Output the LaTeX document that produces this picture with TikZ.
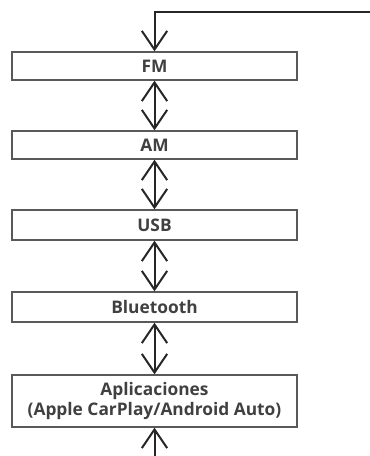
\documentclass[tikz,border=0pt]{standalone}
\usepackage{fontspec}
\setmainfont{Open Sans}
\usepackage{tikz}
\usetikzlibrary{arrows.meta,positioning,calc}

\tikzset{
  modebox/.style={draw=black!65, line width=1pt, fill=white, minimum width=213.75pt,
    minimum height=21pt, inner sep=0pt, align=center, text=black!75,
    font=\fontsize{13}{15}\selectfont\bfseries},
  modearrow/.style={draw=black!85, line width=1.5pt,
    arrows={-Straight Barb[length=14pt,width=19pt,line width=1.5pt]}},
  modeboth/.style={modearrow, arrows={Straight Barb[length=14pt,width=19pt,line width=1.5pt]-Straight Barb[length=14pt,width=19pt,line width=1.5pt]}}
}

\begin{document}
\begin{tikzpicture}[x=0.75pt,y=-0.75pt]
          % Page frame
          \useasboundingbox (0,0) rectangle (370,456);
          % Source modes
          \node[modebox] (fm) at (154.5,66) {FM};
          \node[modebox] (am) at (154.5,145) {AM};
          \node[modebox, minimum height=22.5pt] (usb) at (154.5,225) {USB};
          \node[modebox, minimum height=22.5pt] (bt) at (154.5,307) {Bluetooth};
          \node[modebox, minimum height=39pt] (apps) at (154.5,401)
            {Aplicaciones\\(Apple CarPlay/Android Auto)};
          % Loose ends of the loop
          \coordinate (loop) at (372,12);
          \coordinate (bot) at (154.5,458);
          % Connectors
          \draw[modearrow] (loop) -| (fm.north);
          \draw[modeboth] (fm.south) -- (am.north);
          \draw[modeboth] (am.south) -- (usb.north);
          \draw[modeboth] (usb.south) -- (bt.north);
          \draw[modeboth] (bt.south) -- (apps.north);
          \draw[modearrow] (bot) -- (apps.south);
        \end{tikzpicture}
\end{document}
